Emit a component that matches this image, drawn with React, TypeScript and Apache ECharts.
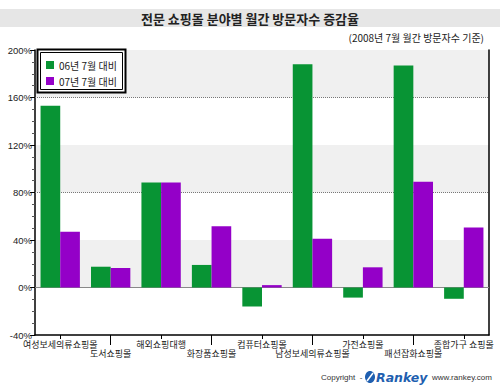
import React, { useEffect, useRef } from "react";
import * as echarts from "echarts";

const categories = [
  "여성보세의류쇼핑몰",
  "도서쇼핑몰",
  "해외쇼핑대행",
  "화장품쇼핑몰",
  "컴퓨터쇼핑몰",
  "남성보세의류쇼핑몰",
  "가전쇼핑몰",
  "패션잡화쇼핑몰",
  "종합가구 쇼핑몰",
];
const vs06 = [153, 17.5, 88.5, 19, -16, 188, -8.5, 187, -9.5];
const vs07 = [47, 16.5, 88.5, 51.5, 2, 41, 17, 89, 50.5];
const seriesNames = ["06년 7월 대비", "07년 7월 대비"];
const dottedLevels = [80, 160];
const titleText = "전문 쇼핑몰 분야별 월간 방문자수 증감율";
const subtitleText = "(2008년 7월 월간 방문자수 기준)";

const FONT = "'Noto Sans CJK KR', 'Noto Sans', sans-serif";

export default function App() {
  const ref = useRef<HTMLDivElement>(null);
  useEffect(() => {
    if (!ref.current) return;
    const chart = echarts.init(ref.current, undefined, { renderer: "svg" });
    chart.setOption({
      animation: false,
      backgroundColor: "#ffffff",
      textStyle: { fontFamily: FONT },
      grid: { left: 35, right: 11, top: 50, bottom: 53, containLabel: false },
      legend: {
        orient: "vertical",
        left: 46,
        top: 60,
        padding: 0,
        itemWidth: 8,
        itemHeight: 8,
        itemGap: 6,
        icon: "rect",
        z: 20,
        data: seriesNames,
        textStyle: { fontSize: 10, color: "#222", fontFamily: FONT },
      },
      xAxis: [
        {
          type: "category",
          data: categories,
          position: "bottom",
          axisLine: { show: true, onZero: false, lineStyle: { color: "#000", width: 1.5 } },
          axisTick: {
            show: true,
            alignWithLabel: true,
            length: 4,
            interval: (i: number) => i % 2 === 0,
            lineStyle: { color: "#000" },
          },
          axisLabel: {
            interval: 0,
            margin: 5,
            fontSize: 9,
            lineHeight: 9,
            color: "#222",
            fontFamily: FONT,
            formatter: (v: string, i: number) => (i % 2 === 1 ? "\n" + v : v),
          },
          splitLine: { show: false },
        },
        {
          type: "category",
          data: categories,
          position: "bottom",
          axisLine: { show: false, onZero: false },
          axisTick: {
            show: true,
            alignWithLabel: true,
            length: 10,
            interval: (i: number) => i % 2 === 1,
            lineStyle: { color: "#000" },
          },
          axisLabel: { show: false },
          splitLine: { show: false },
        },
      ],
      yAxis: [
        {
          type: "value",
          min: -40,
          max: 200,
          interval: 40,
          axisLine: { show: true, lineStyle: { color: "#000", width: 1.5 } },
          axisTick: { show: true, length: 5, lineStyle: { color: "#000" } },
          minorTick: { show: true, splitNumber: 4, length: 3, lineStyle: { color: "#555" } },
          axisLabel: {
            formatter: "{value}%",
            fontSize: 9.5,
            lineHeight: 8,
            color: "#222",
            margin: 3,
            fontFamily: "'Liberation Sans', sans-serif",
          },
          splitLine: { show: false },
          splitArea: { show: true, areaStyle: { color: ["#ffffff", "#f0f0f0"] } },
        },
        {
          type: "value",
          min: -40,
          max: 200,
          interval: 40,
          position: "right",
          axisLine: { show: true, lineStyle: { color: "#000", width: 1.5 } },
          axisTick: { show: false },
          axisLabel: { show: false },
          splitLine: { show: false },
        },
      ],
      series: [
        {
          name: "guides",
          type: "line",
          data: [],
          z: 1,
          silent: true,
          markLine: {
            z: 1,
            silent: true,
            symbol: "none",
            label: { show: false },
            data: [
              ...dottedLevels.map((v) => ({
                yAxis: v,
                lineStyle: { type: "dotted", color: "#777", width: 1 },
              })),
              { yAxis: 0, lineStyle: { type: "solid", color: "#888", width: 1 } },
            ],
          },
        },
        {
          name: seriesNames[0],
          type: "bar",
          data: vs06,
          barGap: "0%",
          barCategoryGap: "22%",
          itemStyle: { color: "#089434" },
          z: 2,
        },
        {
          name: seriesNames[1],
          type: "bar",
          data: vs07,
          barGap: "0%",
          barCategoryGap: "22%",
          itemStyle: { color: "#9400c8" },
          z: 2,
        },
      ],
      graphic: [
        {
          type: "rect",
          z: 0,
          shape: { x: 0, y: 9, width: 500, height: 18 },
          style: { fill: "#e6e6e6" },
          silent: true,
        },
        {
          type: "text",
          z: 1,
          x: 250,
          y: 18,
          style: {
            text: titleText,
            fill: "#222",
            fontSize: 13,
            fontWeight: "bold",
            fontFamily: FONT,
            textAlign: "center",
            textVerticalAlign: "middle",
          },
        },
        {
          type: "text",
          z: 1,
          x: 484,
          y: 37,
          style: {
            text: subtitleText,
            fill: "#222",
            fontSize: 10,
            fontFamily: FONT,
            textAlign: "right",
            textVerticalAlign: "middle",
          },
        },
        {
          type: "rect",
          z: 10,
          shape: { x: 37.5, y: 49.5, width: 88, height: 43 },
          style: { fill: "#ffffff", stroke: "#000", lineWidth: 2 },
        },
        {
          type: "rect",
          z: 11,
          shape: { x: 40.5, y: 52.5, width: 82, height: 37 },
          style: { fill: "none", stroke: "#000", lineWidth: 1 },
        },
        {
          type: "text",
          x: 321,
          y: 377,
          style: {
            text: "Copyright  -",
            fill: "#333",
            fontSize: 8,
            fontFamily: "'Liberation Sans', sans-serif",
            textVerticalAlign: "middle",
          },
        },
        {
          type: "ellipse",
          shape: { cx: 370, cy: 377, rx: 5, ry: 6 },
          style: { fill: "#1f5fb0" },
        },
        {
          type: "line",
          shape: { x1: 367, y1: 381, x2: 373, y2: 373 },
          style: { stroke: "#fff", lineWidth: 1.6 },
          z: 2,
        },
        {
          type: "text",
          x: 376,
          y: 377,
          style: {
            text: "Rankey",
            fill: "#1f5fb0",
            fontSize: 12.5,
            fontWeight: "bold",
            fontStyle: "italic",
            fontFamily: "'DejaVu Sans', sans-serif",
            textVerticalAlign: "middle",
          },
        },
        {
          type: "text",
          x: 432,
          y: 377,
          style: {
            text: "www.rankey.com",
            fill: "#333",
            fontSize: 8,
            fontFamily: "'Liberation Sans', sans-serif",
            textVerticalAlign: "middle",
          },
        },
      ],
    });
    return () => chart.dispose();
  }, []);
  return <div ref={ref} style={{ width: 500, height: 388, position: "absolute", left: 0, top: 0 }} />;
}
